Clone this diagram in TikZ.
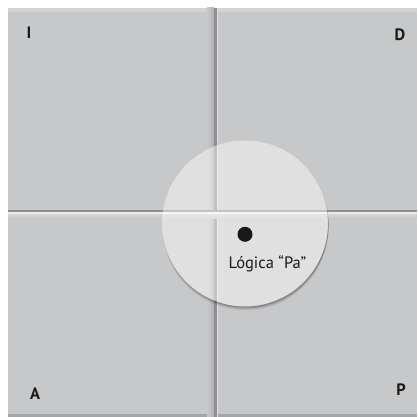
\documentclass[tikz,border=0pt]{standalone}
\usepackage{fontspec}
\setmainfont{PT Sans}
\begin{document}
\begin{tikzpicture}[x=1pt,y=-1pt,
  lbl/.style={font=\fontsize{16.5}{16.5}\selectfont\bfseries, text=black!90, inner sep=0pt},
  ]
\definecolor{qgray}{HTML}{C7C8CA}
\definecolor{qlight}{HTML}{D2D3D5}
\definecolor{qdark}{HTML}{8E8F91}
\useasboundingbox (0,0) rectangle (417,417);
\fill[white] (0,0) rectangle (417,417);
% quadrants
\fill[qgray] (8,8) rectangle (417,417);
% top light strip
\fill[qlight] (8,8) rectangle (417,12);
% bottom dark edge
\fill[qdark!80] (8,413.5) rectangle (417,417);
% vertical divider with shadow
\shade[left color=qgray, right color=qdark!70] (207,8) rectangle (214,417);
\fill[qdark] (214,8) rectangle (216.5,417);
\fill[qgray!60!white] (216.5,8) rectangle (218,417);
% horizontal divider
\fill[qdark] (8,209.5) rectangle (417,211.5);
\fill[qlight!40!white] (8,211.5) rectangle (417,214.5);
\shade[top color=qlight, bottom color=qgray] (8,214.5) rectangle (417,218);
% circle shadow (bottom only)
\begin{scope}[even odd rule]
  \clip (0,0) rectangle (417,417) (245,223.5) circle[radius=83];
  \foreach \d/\o in {4/0.05,3/0.08,2/0.12,1/0.15}{
    \fill[black, opacity=\o] (245.6,223.5+\d) circle[radius=83];
  }
\end{scope}
% lens
\node[circle, minimum size=166pt, inner sep=0pt, fill=white, fill opacity=0.45] (lens) at (245,223.5) {};
% dot and label
\node[circle, fill=black!90, minimum size=15pt, inner sep=0pt] (dot) at (245,234.3) {};
\node[font=\fontsize{16.5}{16.5}\selectfont, text=black!90, inner sep=0pt, anchor=base] (logica) at (267.5,268) {Lógica “Pa”};
% corner letters
\node[lbl] (I) at (29,33) {I};
\node[lbl] (D) at (400,35) {D};
\node[lbl] (A) at (35,393.5) {A};
\node[lbl] (P) at (401,389.7) {P};
\end{tikzpicture}
\end{document}
